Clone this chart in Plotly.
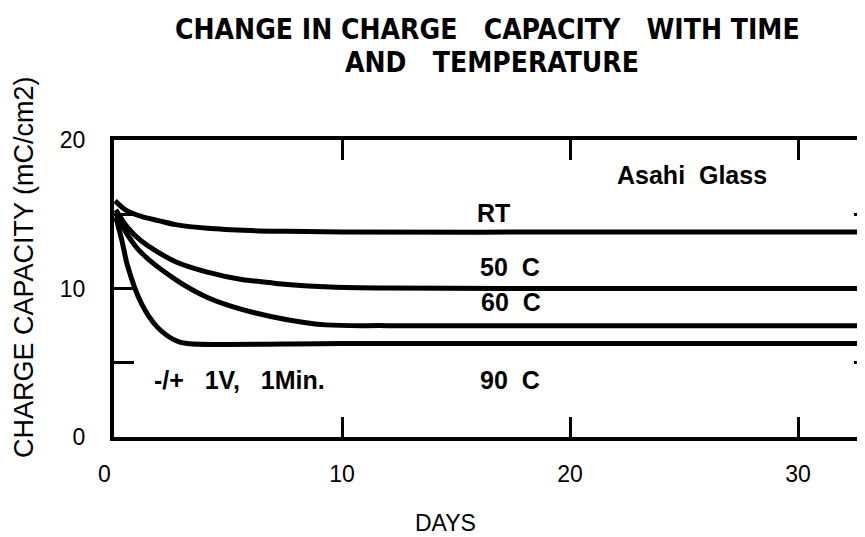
import plotly.graph_objects as go

# ---- data ----
days_rt = [0.05, 0.5, 1.2, 2.0, 2.7, 4.1, 6.0, 7.6, 10.0, 20.0, 33.0]
cap_rt = [15.9, 15.3, 14.85, 14.55, 14.3, 14.05, 13.9, 13.85, 13.8, 13.8, 13.8]

days_50 = [0.08, 0.6, 1.2, 2.7, 4.1, 5.6, 6.8, 7.6, 9.5, 12.0, 20.0, 33.0]
cap_50 = [15.3, 14.1, 13.2, 11.8, 11.1, 10.6, 10.4, 10.27, 10.1, 10.03, 10.0, 10.0]

days_60 = [0.1, 0.6, 1.2, 2.7, 4.1, 5.6, 7.6, 9.3, 12.0, 20.0, 33.0]
cap_60 = [15.0, 13.6, 12.4, 10.6, 9.4, 8.6, 7.9, 7.55, 7.5, 7.5, 7.5]

days_90 = [0.08, 0.35, 0.6, 1.2, 1.9, 2.7, 3.2, 10.0, 20.0, 33.0]
cap_90 = [14.8, 13.2, 11.5, 9.0, 7.4, 6.5, 6.3, 6.3, 6.3, 6.3]

x_ticks = [0, 10, 20, 30]
x_tick_labels = ["0\u00a0\u00a0\u00a0", "10", "20", "30"]
y_ticks = [0, 5, 10, 15, 20]
y_tick_labels = ["0", "", "10", "", "20"]

series = [
    ("RT", days_rt, cap_rt, "y2"),
    ("50 C", days_50, cap_50, "y"),
    ("60 C", days_60, cap_60, "y"),
    ("90 C", days_90, cap_90, "y"),
]

# ---- layout geometry (pixels); the page body adds an 8px offset ----
OFF = 8
W, H = 865 - OFF, 537 - OFF
L, R, T, B = 114 - OFF, 0, 140 - OFF, 100
PW, PH = W - L - R, H - T - B
PX_PER_DAY = 22.8
XMAX = PW / PX_PER_DAY

def px(x):  # screen x -> paper
    return (x - OFF - L) / PW

def py(y):  # screen y -> paper
    return (H - B - (y - OFF)) / PH

REG = "Liberation Sans, Arial, Helvetica, sans-serif"
BOLD_COND = "DejaVu Sans Condensed, Liberation Sans Narrow, Arial Narrow, sans-serif"

fig = go.Figure()
for name, xs, ys, yax in series:
    fig.add_trace(go.Scatter(
        x=xs, y=ys, mode="lines", name=name, yaxis=yax,
        line=dict(color="black", width=5, shape="spline", smoothing=0.9),
        showlegend=False, hoverinfo="skip",
    ))

fig.update_layout(
    width=W, height=H,
    margin=dict(l=L, r=R, t=T, b=B, autoexpand=False),
    paper_bgcolor="white", plot_bgcolor="white",
    showlegend=False,
    xaxis=dict(
        range=[0, XMAX], tickvals=x_ticks, ticktext=x_tick_labels,
        ticks="inside", ticklen=20, tickwidth=2.5, tickcolor="black",
        showline=True, linecolor="black", linewidth=4, mirror="ticks",
        showgrid=False, zeroline=False,
        tickfont=dict(family=REG, size=23, color="black"),
        ticklabelstandoff=13,
    ),
    yaxis=dict(
        range=[0, 20], tickvals=y_ticks, ticktext=y_tick_labels,
        ticks="inside", ticklen=20, tickwidth=2.5, tickcolor="black",
        showline=True, linecolor="black", linewidth=4, mirror=False,
        showgrid=False, zeroline=False,
        tickfont=dict(family=REG, size=23, color="black"),
        ticklabelstandoff=20,
    ),
    yaxis2=dict(
        range=[0, 20], overlaying="y", side="right",
        tickvals=[5, 10, 15], ticks="inside", ticklen=11, tickwidth=3,
        tickcolor="black", showticklabels=False, showline=False,
        showgrid=False, zeroline=False,
    ),
)

title_font = dict(family=BOLD_COND, size=28, color="black", weight="bold")
fig.add_annotation(text="CHANGE IN CHARGE\u00a0\u00a0 CAPACITY\u00a0\u00a0 WITH TIME",
                   xref="paper", yref="paper", x=px(487), y=py(30),
                   showarrow=False, xanchor="center", yanchor="middle", font=title_font)
fig.add_annotation(text="AND\u00a0\u00a0 TEMPERATURE",
                   xref="paper", yref="paper", x=px(492), y=py(62),
                   showarrow=False, xanchor="center", yanchor="middle", font=title_font)

ann_font = dict(family=REG, size=25, color="black", weight="bold")
annotations = [
    dict(text="Asahi\u00a0 Glass", x=px(692), y=py(175)),
    dict(text="RT", x=px(493), y=py(213)),
    dict(text="50\u00a0 C", x=px(510), y=py(267)),
    dict(text="60\u00a0 C", x=px(511), y=py(302)),
    dict(text="90\u00a0 C", x=px(510), y=py(380)),
    dict(text="-/+\u00a0\u00a0 1V,\u00a0\u00a0 1Min.", x=px(239), y=py(380)),
]
for a in annotations:
    fig.add_annotation(xref="paper", yref="paper", showarrow=False,
                       xanchor="center", yanchor="middle", font=ann_font, **a)

fig.add_annotation(text="CHARGE CAPACITY (mC/cm2)", xref="paper", yref="paper",
                   x=px(24), y=py(267), showarrow=False, textangle=-90,
                   xanchor="center", yanchor="middle",
                   font=dict(family=REG, size=27, color="black"))
fig.add_annotation(text="DAYS", xref="paper", yref="paper",
                   x=px(445), y=py(523), showarrow=False,
                   xanchor="center", yanchor="middle",
                   font=dict(family=REG, size=23, color="black"))

fig.write_html("out.html")
